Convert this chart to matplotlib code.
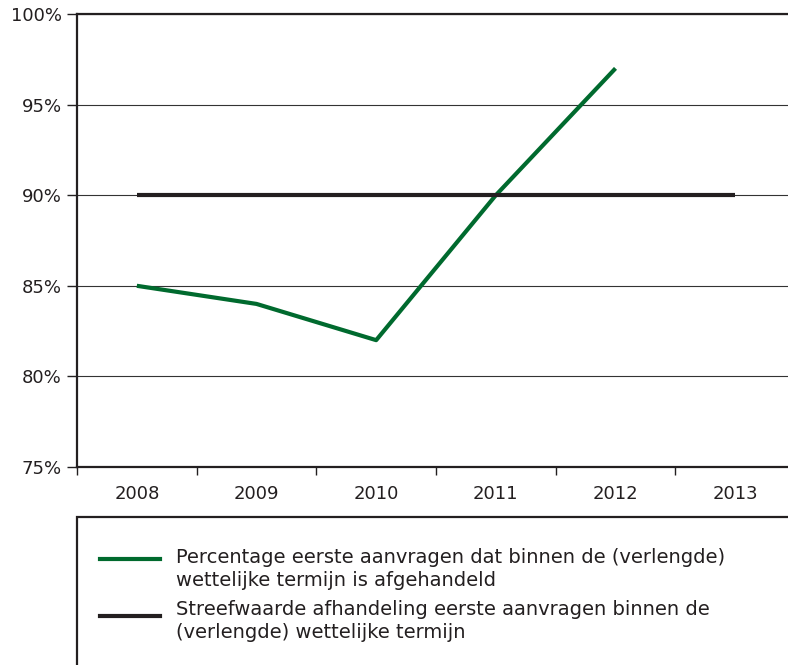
import numpy as np
import matplotlib.pyplot as plt
from matplotlib.patches import Rectangle
from matplotlib.lines import Line2D

years = ['2008', '2009', '2010', '2011', '2012', '2013']
percentage = [85, 84, 82, 90, 97]
target = [90, 90, 90, 90, 90, 90]
yticks = [75, 80, 85, 90, 95, 100]

label_pct = 'Percentage eerste aanvragen dat binnen de (verlengde)\nwettelijke termijn is afgehandeld'
label_target = 'Streefwaarde afhandeling eerste aanvragen binnen de\n(verlengde) wettelijke termijn'

green = '#006a2e'
black = '#231f20'
plt.rcParams['font.family'] = 'DejaVu Sans'

W, H = 788, 665
fig = plt.figure(figsize=(W/100, H/100), dpi=100)
ax = fig.add_axes([77/W, 1-467/H, 718/W, 453/H])

x = np.arange(len(years))
ax.plot(x[:len(percentage)], percentage, color=green, lw=3, solid_capstyle='butt')
ax.plot(x, target, color=black, lw=3, solid_capstyle='butt')

ax.set_xlim(-0.5, 5.5)
ax.set_ylim(75, 100)
ax.set_yticks(yticks)
ax.set_yticklabels([f'{v}%' for v in yticks])
ax.set_xticks(x)
ax.set_xticklabels(years)
ax.set_xticks(np.arange(-0.5, 5.5, 1), minor=True)
ax.tick_params(axis='x', which='major', length=0, pad=13, labelsize=13, colors=black)
ax.tick_params(axis='x', which='minor', length=6, width=1, color=black)
ax.tick_params(axis='y', length=7, width=1, labelsize=13, pad=4, colors=black)
ax.grid(axis='y', color='#333333', lw=0.8)
ax.set_axisbelow(True)
for s in ['left', 'top', 'bottom']:
    ax.spines[s].set_linewidth(1.6)
    ax.spines[s].set_color(black)
ax.spines['right'].set_visible(False)

# legend box (open to the right and bottom, like the source)
fig.patches.append(Rectangle((77/W, -0.2), 1.0, 1-517/H+0.2, transform=fig.transFigure,
                             fill=False, edgecolor=black, lw=1.6))
# legend entries: (handle y, text block centre y) in pixels from the top
for color, label, hy, ty in [(green, label_pct, 559, 569), (black, label_target, 616, 621)]:
    fig.add_artist(Line2D([100/W, 160/W], [1-hy/H, 1-hy/H], color=color, lw=3,
                          transform=fig.transFigure))
    fig.text(176/W, 1-ty/H, label, fontsize=14, color=black, va='center', ha='left',
             linespacing=1.25)

fig.savefig('out.png', dpi=100)
